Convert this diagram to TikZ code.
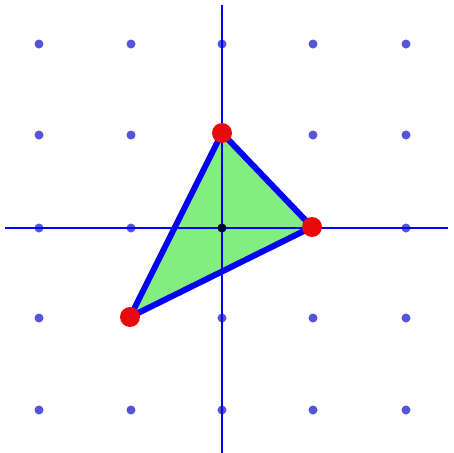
\documentclass[tikz,border=0pt]{standalone}
\begin{document}
\begin{tikzpicture}[x=1pt,y=-1pt,
  griddot/.style={circle,fill=dotblue,inner sep=0pt,minimum size=9pt},
  vertexdot/.style={circle,fill=vred,inner sep=0pt,minimum size=20pt},
  axisline/.style={draw=blue,line width=1.4pt},
  edge/.style={draw=blue,line width=6pt,line join=round}]
\definecolor{dotblue}{RGB}{85,85,215}
\definecolor{vred}{RGB}{232,10,10}
\definecolor{tgreen}{RGB}{130,238,130}
\useasboundingbox (0,0) rectangle (453,453);
\fill[white] (0,0) rectangle (453,453);
% axes
\coordinate (vt) at (222,5);
\coordinate (vb) at (222,453);
\coordinate (hl) at (5,228);
\coordinate (hr) at (448,228);
\draw[axisline] (vt) -- (vb);
\draw[axisline] (hl) -- (hr);
% grid dots
\foreach \i/\x in {0/39,1/131,2/222,3/313,4/406}{
  \foreach \j/\y in {0/44,1/135,2/228,3/318,4/410}{
    \node[griddot] (g\i\j) at (\x,\y) {};
  }
}
% triangle
\coordinate (A) at (222,133);
\coordinate (B) at (312,227);
\coordinate (C) at (130,317);
\fill[tgreen] (A) -- (B) -- (C) -- cycle;
\draw[axisline] (vt) -- (vb);
\draw[axisline] (hl) -- (hr);
\node[circle,fill=black!80!blue,inner sep=0pt,minimum size=9pt] (o) at (222,228) {};
\draw[edge] (A) -- (B) -- (C) -- cycle;
\node[vertexdot] (va) at (A) {};
\node[vertexdot] (vb2) at (B) {};
\node[vertexdot] (vc) at (C) {};
\end{tikzpicture}
\end{document}
